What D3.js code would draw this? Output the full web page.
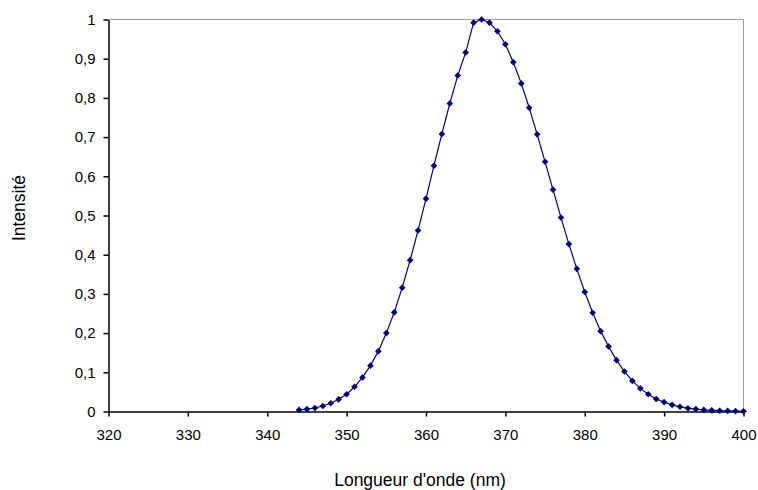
<!DOCTYPE html>
<html><head><meta charset="utf-8">
<script src="https://cdn.jsdelivr.net/npm/d3@7"></script>
<style>body{margin:0;background:#fff}text{font-family:"Liberation Sans",Arial,sans-serif}</style>
</head><body><svg id="c" width="758" height="490"></svg>
<script>
const wavelengths = d3.range(344, 401);
const intensity = [0.004,0.006,0.009,0.014,0.021,0.031,0.044,0.063,0.087,0.117,0.154,0.200,0.253,0.316,0.386,0.462,0.543,0.627,0.708,0.786,0.857,0.916,0.992,1.0,0.992,0.970,0.937,0.891,0.837,0.775,0.707,0.637,0.566,0.495,0.427,0.364,0.305,0.252,0.205,0.166,0.131,0.102,0.078,0.059,0.044,0.032,0.024,0.017,0.012,0.008,0.006,0.004,0.003,0.002,0.0015,0.001,0.0005];
const xTicks = [320,330,340,350,360,370,380,390,400];
const yTicks = [0,0.1,0.2,0.3,0.4,0.5,0.6,0.7,0.8,0.9,1];

const svg = d3.select("#c");
const L=108.5, R=743.5, T=19.5, B=411.5;
const x = d3.scaleLinear().domain([320,400]).range([L,R]);
const y = d3.scaleLinear().domain([0,1]).range([B,T]);
const fmt = d => d3.format("~g")(d).replace(".", ",");

svg.append("path").attr("d",`M${L},${T}H${R}V${B}`).attr("fill","none").attr("stroke","#a0a0a0").attr("stroke-width",1);

const xa = svg.append("g").attr("transform",`translate(0,${B})`)
  .call(d3.axisBottom(x).tickValues(xTicks).tickFormat(d=>d).tickSize(5).tickSizeOuter(0));
const ya = svg.append("g").attr("transform",`translate(${L},0)`)
  .call(d3.axisLeft(y).tickValues(yTicks).tickFormat(fmt).tickSize(5).tickSizeOuter(0));
[xa,ya].forEach(a=>{
  a.selectAll("path,line").attr("stroke","#000").attr("stroke-width",1.5);
  a.selectAll("text").attr("font-size",15).attr("fill","#000").attr("font-family","Liberation Sans, Arial, sans-serif");
});
xa.selectAll("text").attr("y",17.5);
ya.selectAll("text").attr("x",-13);

const data = wavelengths.map((w,i)=>({w, v:intensity[i]}));
svg.append("path").datum(data)
  .attr("d", d3.line().x(d=>x(d.w)).y(d=>y(d.v)))
  .attr("fill","none").attr("stroke","#000080").attr("stroke-width",1.2);
svg.append("g").selectAll("path").data(data).join("path")
  .attr("transform", d=>`translate(${x(d.w)},${y(d.v)})`)
  .attr("d", d3.symbol(d3.symbolDiamond2, 28))
  .attr("fill","#000080");

svg.append("text").attr("x",420).attr("y",486).attr("text-anchor","middle")
  .attr("font-size",17.5).text("Longueur d'onde (nm)");
svg.append("text").attr("transform",`translate(24.5,208) rotate(-90)`).attr("text-anchor","middle")
  .attr("font-size",17.5).text("Intensité");
</script></body></html>
